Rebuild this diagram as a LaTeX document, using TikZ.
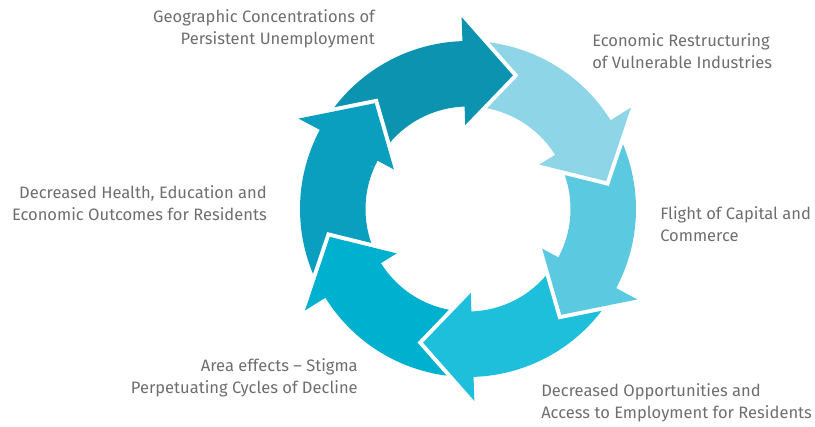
\documentclass[tikz,border=0pt]{standalone}
\usepackage{fontspec}
\setmainfont{Fira Sans}

\definecolor{arrowA}{HTML}{0B93B0}
\definecolor{arrowB}{HTML}{8ED6E7}
\definecolor{arrowC}{HTML}{5BC9DF}
\definecolor{arrowD}{HTML}{1EBFDA}
\definecolor{arrowE}{HTML}{00B1CF}
\definecolor{arrowF}{HTML}{0A9FBE}
\definecolor{textgray}{HTML}{6D6E70}

% curved arrow of the cycle: #1 = angle of the tip, #2 = colour
\newcommand{\cyclearrow}[2]{%
  \pgfmathsetmacro{\headbase}{#1+20.5}%
  \pgfmathsetmacro{\tailend}{#1+77}%
  \fill[#2, arrowcut] (\tailend:168) arc[start angle=\tailend, end angle=\headbase, radius=168]
    -- (\headbase:192) -- (#1:141) -- (\headbase:84) -- (\headbase:102.5)
    arc[start angle=\headbase, end angle=\tailend, radius=102.5] -- cycle;
}

\begin{document}
\begin{tikzpicture}[x=0.75pt, y=0.75pt,
    arrowcut/.style={preaction={draw=white, line width=6pt, line join=miter}},
    steplabel/.style={text=textgray, font=\fontsize{12.4}{16.5}\selectfont, inner sep=0pt}]
    \useasboundingbox (-468,-217) rectangle (347,209);

    % draw arrows, each head lies over the tail of the next one
    \cyclearrow{131.4}{arrowF}
    \cyclearrow{-168.6}{arrowE}
    \cyclearrow{-108.6}{arrowD}
    \cyclearrow{-48.6}{arrowC}
    \cyclearrow{11.4}{arrowB}
    \cyclearrow{71.4}{arrowA}

    % head of the last arrow again, over the tail of the first
    \begin{scope}
        \clip (0,0) -- (128:220) arc[start angle=128, end angle=156, radius=220] -- cycle;
        \cyclearrow{131.4}{arrowF}
    \end{scope}

    % labels
    \node[steplabel, anchor=east, align=right] (geo) at (-93,180) {Geographic Concentrations of\\Persistent Unemployment};
    \node[steplabel, anchor=west, align=left] (restruct) at (124,158) {Economic Restructuring\\of Vulnerable Industries};
    \node[steplabel, anchor=west, align=left] (flight) at (192,-15) {Flight of Capital and\\Commerce};
    \node[steplabel, anchor=west, align=left] (access) at (73,-194) {Decreased Opportunities and\\Access to Employment for Residents};
    \node[steplabel, anchor=east, align=right] (stigma) at (-110,-169) {Area effects -- Stigma\\Perpetuating Cycles of Decline};
    \node[steplabel, anchor=east, align=right] (health) at (-201,6) {Decreased Health, Education and\\Economic Outcomes for Residents};
\end{tikzpicture}
\end{document}
